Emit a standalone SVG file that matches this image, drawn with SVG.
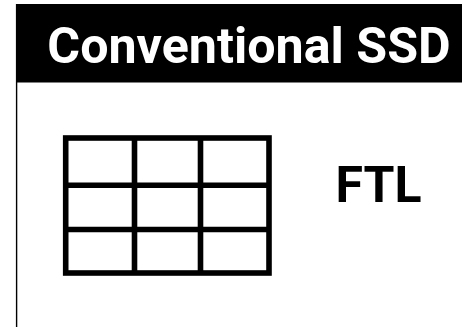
<svg xmlns="http://www.w3.org/2000/svg" width="462" height="327" viewBox="0 0 462 327">
  <style>
    .title { font-family: Roboto, "Liberation Sans", sans-serif; font-weight: 700; fill: #ffffff; }
    .label { font-family: Roboto, "Liberation Sans", sans-serif; font-weight: 700; fill: #000000; }
    .grid { fill: none; stroke: #000000; stroke-width: 5.6; }
  </style>
  <rect x="0" y="0" width="462" height="327" fill="#ffffff"/>
  <!-- enclosure edge -->
  <line x1="16.6" y1="4" x2="16.6" y2="327" stroke="#000000" stroke-width="1.4"/>
  <g id="header">
    <rect x="16" y="4" width="446" height="78.5" fill="#000000"/>
    <text class="title" x="249" y="62.7" font-size="50.2" text-anchor="middle">Conventional SSD</text>
  </g>
  <g id="mapping-table">
    <rect class="grid" x="65.7" y="138" width="203.3" height="135"/>
    <line class="grid" x1="134.5" y1="138" x2="134.5" y2="273"/>
    <line class="grid" x1="200.5" y1="138" x2="200.5" y2="273"/>
    <line class="grid" x1="65.7" y1="185.2" x2="269" y2="185.2"/>
    <line class="grid" x1="65.7" y1="229.5" x2="269" y2="229.5"/>
  </g>
  <g id="ftl">
    <text class="label" x="378.5" y="202.3" font-size="50" text-anchor="middle">FTL</text>
  </g>
</svg>
